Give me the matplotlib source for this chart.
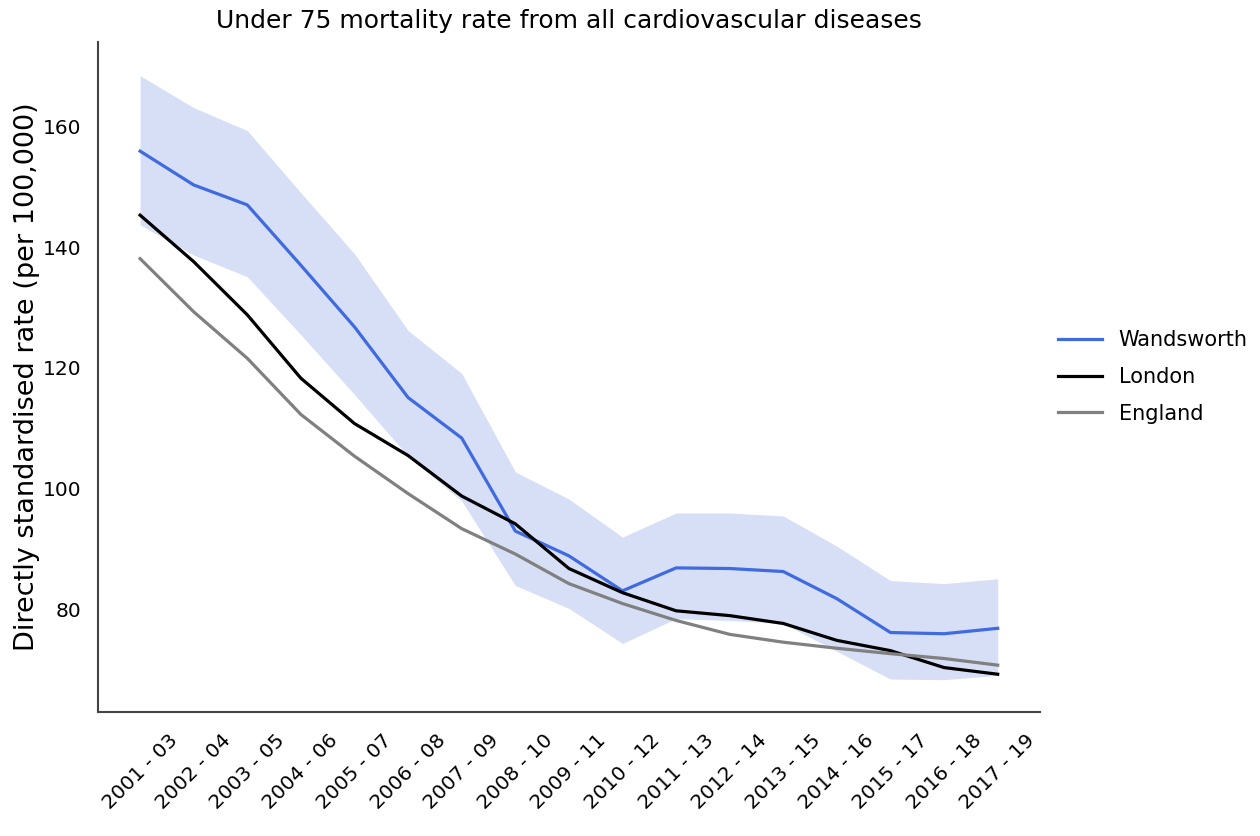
import numpy as np
import matplotlib
matplotlib.use("Agg")
import matplotlib.pyplot as plt

periods = ["2001 - 03", "2002 - 04", "2003 - 05", "2004 - 06", "2005 - 07",
           "2006 - 08", "2007 - 09", "2008 - 10", "2009 - 11", "2010 - 12",
           "2011 - 13", "2012 - 14", "2013 - 15", "2014 - 16", "2015 - 17",
           "2016 - 18", "2017 - 19"]

wandsworth = [155.9, 150.3, 147.0, 137.0, 126.8, 115.1, 108.4, 93.0, 88.9,
              83.1, 86.9, 86.8, 86.3, 81.8, 76.2, 76.0, 76.9]
wand_upper = [168.4, 163.1, 159.3, 149.0, 138.9, 126.2, 119.1, 102.8, 98.3,
              92.0, 96.0, 96.0, 95.5, 90.5, 84.8, 84.3, 85.1]
wand_lower = [143.7, 138.7, 135.1, 125.5, 115.6, 105.4, 98.0, 84.0, 80.2,
              74.4, 78.5, 78.2, 77.7, 73.1, 68.5, 68.4, 69.1]
london = [145.3, 137.6, 128.8, 118.3, 110.8, 105.5, 98.8, 94.2, 86.8,
          82.8, 79.8, 79.0, 77.7, 74.9, 73.2, 70.4, 69.3]
england = [138.1, 129.3, 121.6, 112.3, 105.4, 99.2, 93.4, 89.2, 84.3,
           81.0, 78.2, 75.9, 74.6, 73.6, 72.7, 71.9, 70.8]

x = np.arange(len(periods))

fig = plt.figure(figsize=(12.6, 8.36), dpi=100)
ax = fig.add_axes([0.078, 0.148, 0.747, 0.802])

ax.fill_between(x, wand_lower, wand_upper, color="#d6dff6", linewidth=0)
ax.plot(x, wandsworth, color="#3f6ae0", linewidth=2.3, label="Wandsworth")
ax.plot(x, london, color="black", linewidth=2.3, label="London")
ax.plot(x, england, color="grey", linewidth=2.3, label="England")

ax.set_xlim(-0.78, 16.78)
ax.set_ylim(63, 174)
ax.set_yticks([80, 100, 120, 140, 160])
ax.set_xticks(x)
ax.set_xticklabels(periods, rotation=45)
ax.tick_params(length=0, labelsize=14.5)
ax.tick_params(axis="y", pad=12)
ax.tick_params(axis="x", pad=13)

for s in ["top", "right"]:
    ax.spines[s].set_visible(False)
for s in ["left", "bottom"]:
    ax.spines[s].set_color("#444444")
    ax.spines[s].set_linewidth(1.5)

ax.set_ylabel("Directly standardised rate (per 100,000)", fontsize=19.5, labelpad=2)
ax.set_title("Under 75 mortality rate from all cardiovascular diseases", fontsize=18, pad=10)

ax.legend(loc="center left", bbox_to_anchor=(1.0, 0.5), frameon=False, fontsize=15,
          labelspacing=0.8, handlelength=2.1, handletextpad=0.8)

fig.savefig("out.png", dpi=100)
